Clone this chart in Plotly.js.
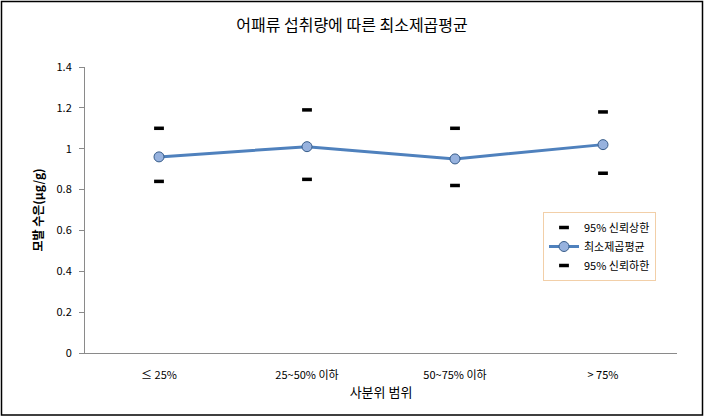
<!DOCTYPE html>
<html><head><meta charset="utf-8">
<script src="https://cdn.plot.ly/plotly-3.0.1.min.js"></script>
<style>html,body{margin:0;padding:0;background:#fff}#c{width:704px;height:417px}</style>
</head><body><div id="c"></div>
<script>
const categories = ['≤ 25%', '25~50% 이하', '50~75% 이하', '> 75%'];
const upper95 = [1.10, 1.19, 1.10, 1.18];
const meanLS = [0.96, 1.01, 0.95, 1.02];
const lower95 = [0.84, 0.85, 0.82, 0.88];
const yTicks = [0, 0.2, 0.4, 0.6, 0.8, 1, 1.2, 1.4];
const yTickText = ['0', '0.2', '0.4', '0.6', '0.8', '1', '1.2', '1.4'];

const F = '"Noto Sans CJK KR", "Noto Sans", sans-serif';
const dash = {symbol: 'line-ew', size: 7, line: {color: '#000', width: 3.5}, color: '#000'};

const traces = [
  {x: categories, y: upper95, name: '95% 신뢰상한', type: 'scatter', mode: 'markers', marker: dash},
  {x: categories, y: meanLS, name: '최소제곱평균', type: 'scatter', mode: 'lines+markers',
   line: {color: '#4f81bd', width: 3},
   marker: {symbol: 'circle', size: 10, color: '#97b2de', line: {color: '#385d8a', width: 1}}},
  {x: categories, y: lower95, name: '95% 신뢰하한', type: 'scatter', mode: 'markers', marker: dash}
];

const L = 85, R = 677, T = 67, B = 353;
const pw = R - L, ph = B - T;
const layout = {
  width: 704, height: 417,
  margin: {l: L, r: 704 - R, t: T, b: 417 - B},
  paper_bgcolor: '#fff', plot_bgcolor: '#fff',
  font: {family: F, color: '#000', size: 11},
  title: {text: '어패류 섭취량에 따른 최소제곱평균', font: {family: F, size: 16, color: '#000'},
          x: 0.5, xanchor: 'center', y: 1 - 25 / 417, yanchor: 'middle'},
  xaxis: {
    type: 'category', showgrid: false, zeroline: false,
    showline: true, linecolor: '#8a8a8a', linewidth: 1,
    ticks: '', tickfont: {family: F, size: 11, color: '#000'}, ticklabelstandoff: 12,
    title: {text: '사분위 범위', font: {family: F, size: 13, color: '#000'}, standoff: 6},
    range: [-0.5, 3.5]
  },
  yaxis: {
    range: [0, 1.4], tickvals: yTicks, ticktext: yTickText,
    showgrid: false, zeroline: false,
    showline: true, linecolor: '#8a8a8a', linewidth: 1,
    ticks: 'outside', ticklen: 5, tickcolor: '#8a8a8a', ticklabelstandoff: 5,
    tickfont: {family: F, size: 11, color: '#000'},
    title: {text: '<b>모발 수은(μg/g)</b>', font: {family: F, size: 12, color: '#000'}, standoff: 10}
  },
  legend: {
    x: (543 - L) / pw, y: (B - 212) / ph, xanchor: 'left', yanchor: 'top',
    bgcolor: '#fff', bordercolor: '#f2cfa8', borderwidth: 1,
    font: {family: F, size: 11, color: '#000'}, itemwidth: 30,
    tracegroupgap: 4
  },
  showlegend: true,
  shapes: [{
    type: 'rect', xref: 'paper', yref: 'paper',
    x0: (1.5 - L) / pw, x1: (702.5 - L) / pw, y0: (B - 415) / ph, y1: (B - 1.5) / ph,
    line: {color: '#000', width: 1.5}, fillcolor: 'rgba(0,0,0,0)'
  }]
};
Plotly.newPlot('c', traces, layout, {displayModeBar: false, staticPlot: true});
</script></body></html>
